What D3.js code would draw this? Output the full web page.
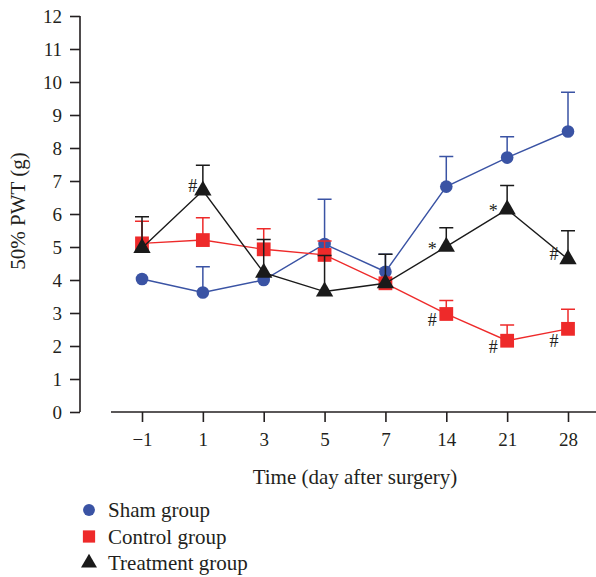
<!DOCTYPE html>
<meta charset="utf-8">
<script src="https://d3js.org/d3.v7.min.js"></script>
<html>
<head>
<style>
body { margin: 0; background: #fff; }
svg text { font-family: "Liberation Serif", "DejaVu Serif", serif; fill: #231f20; }
</style>
</head>
<body>
<div id="chart"></div>
<script>

// data
var days = ["-1", "1", "3", "5", "7", "14", "21", "28"];

var shamMean = [4.03, 3.62, 4.0, 5.09, 4.25, 6.83, 7.71, 8.50];
var shamErr  = [0.0, 0.78, 0.0, 1.36, 0.53, 0.91, 0.63, 1.19];

var controlMean = [5.11, 5.21, 4.93, 4.76, 3.90, 2.97, 2.16, 2.52];
var controlErr  = [0.67, 0.68, 0.62, 0.42, 0.0, 0.41, 0.48, 0.59];

var treatMean = [4.97, 6.71, 4.22, 3.65, 3.90, 5.01, 6.14, 4.63];
var treatErr  = [0.95, 0.77, 1.01, 1.09, 0.88, 0.57, 0.72, 0.86];

var yTicks = [0, 1, 2, 3, 4, 5, 6, 7, 8, 9, 10, 11, 12];

var groupNames = ["Sham group", "Control group", "Treatment group"];

// significance marks: group index, day, symbol
var marks = [
  {g: 2, day: "1", s: "#"},
  {g: 2, day: "14", s: "*"},
  {g: 2, day: "21", s: "*"},
  {g: 2, day: "28", s: "#"},
  {g: 1, day: "14", s: "#"},
  {g: 1, day: "21", s: "#"},
  {g: 1, day: "28", s: "#"}
];

var colors = ["#3a53a4", "#ee2a2a", "#1a1a1a"];
var shapes = [d3.symbolCircle, d3.symbolSquare, d3.symbolTriangle];
var sizes = [125, 190, 130];

var series = [
  {mean: shamMean, err: shamErr},
  {mean: controlMean, err: controlErr},
  {mean: treatMean, err: treatErr}
];

var W = 596, H = 577;
var svg = d3.select("#chart").append("svg")
  .attr("width", W).attr("height", H);

var x = d3.scalePoint().domain(days).range([142, 568]);
var y = d3.scaleLinear().domain([0, 12]).range([412, 16]);

// y axis
var yAxis = svg.append("g")
  .attr("transform", "translate(80,0)")
  .call(d3.axisLeft(y).tickValues(yTicks).tickSize(10).tickPadding(8).tickFormat(d3.format("d")));
yAxis.select(".domain").attr("d", "M0," + y(12) + "V" + y(0)).attr("stroke", "#231f20").attr("stroke-width", 1.6);
yAxis.selectAll(".tick line").attr("stroke", "#231f20").attr("stroke-width", 1.6);
yAxis.selectAll("text").style("font-size", "19px").attr("fill", "#231f20")
  .style("font-family", "'Liberation Serif', serif");

// x axis (detached from the y axis)
var xAxis = svg.append("g")
  .attr("transform", "translate(0,412)")
  .call(d3.axisBottom(x).tickSize(10).tickPadding(11)
    .tickFormat(function(d) { return d.replace("-", "\u2212"); }));
xAxis.select(".domain").attr("d", "M111,0H596").attr("stroke", "#231f20").attr("stroke-width", 1.6);
xAxis.selectAll(".tick line").attr("stroke", "#231f20").attr("stroke-width", 1.6);
xAxis.selectAll("text").style("font-size", "19px").attr("fill", "#231f20")
  .style("font-family", "'Liberation Serif', serif");

svg.append("text")
  .attr("x", 355).attr("y", 484)
  .attr("text-anchor", "middle")
  .style("font-size", "21px")
  .text("Time (day after surgery)");

svg.append("text")
  .attr("transform", "translate(25,211) rotate(-90)")
  .attr("text-anchor", "middle")
  .style("font-size", "21px")
  .text("50% PWT (g)");

// series: blue, red, then black on top
series.forEach(function(s, i) {
  var pts = days.map(function(d, j) { return {day: d, v: s.mean[j], e: s.err[j]}; });
  var g = svg.append("g");

  g.selectAll(".eb").data(pts.filter(function(p) { return p.e > 0; }))
    .enter().append("path")
    .attr("fill", "none")
    .attr("stroke", colors[i])
    .attr("stroke-width", 1.5)
    .attr("d", function(p) {
      var cx = x(p.day), top = y(p.v + p.e);
      return "M" + cx + "," + y(p.v) + "V" + top + "M" + (cx - 7) + "," + top + "H" + (cx + 7);
    });

  g.append("path").datum(pts)
    .attr("fill", "none")
    .attr("stroke", colors[i])
    .attr("stroke-width", 1.4)
    .attr("d", d3.line().x(function(p) { return x(p.day); }).y(function(p) { return y(p.v); }));

  g.selectAll(".pt").data(pts)
    .enter().append("path")
    .attr("transform", function(p) { return "translate(" + x(p.day) + "," + y(p.v) + ")"; })
    .attr("d", d3.symbol().type(shapes[i]).size(sizes[i]))
    .attr("fill", colors[i]);
});

// significance marks, left of the point (above for treatment, below for control)
svg.selectAll(".mark").data(marks)
  .enter().append("text")
  .attr("x", function(m) { return x(m.day) - (m.day == "1" ? 10 : 14); })
  .attr("y", function(m) {
    var v = series[m.g].mean[days.indexOf(m.day)];
    return y(v) + (m.g == 2 ? (m.s == "*" ? 8 : 1) : (m.day == "28" ? 18 : 12));
  })
  .attr("text-anchor", "middle")
  .style("font-size", "18px")
  .text(function(m) { return m.s; });

// legend
var leg = svg.append("g");
groupNames.forEach(function(n, i) {
  var ly = 510 + i * 26.5;
  leg.append("path")
    .attr("transform", "translate(89," + ly + ")")
    .attr("d", d3.symbol().type(shapes[i]).size(i == 1 ? 150 : 110))
    .attr("fill", colors[i]);
  leg.append("text")
    .attr("x", 108).attr("y", ly + 7)
    .style("font-size", "21px")
    .text(n);
});

</script>
</body>
</html>
